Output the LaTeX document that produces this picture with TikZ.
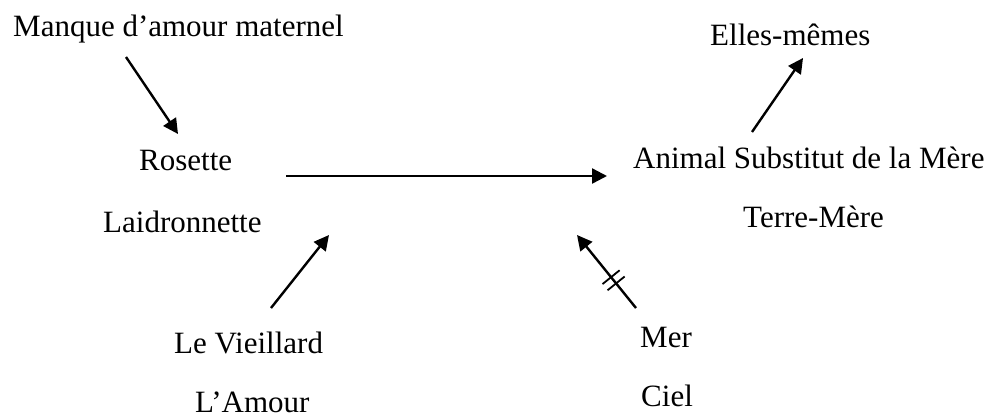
\documentclass[tikz,border=0pt]{standalone}
\usepackage{fontspec}
\setmainfont{Liberation Serif}
\usetikzlibrary{arrows.meta,decorations.markings}

\begin{document}
\begin{tikzpicture}[
  x=1pt, y=-1pt,
  lbl/.style={font=\fontsize{31}{37}\selectfont, inner sep=0pt, anchor=base west},
  arr/.style={-{Triangle[length=15pt,width=15pt]}, line width=2.4pt},
  cut/.style={postaction={decorate},
              decoration={markings, mark=at position 0.38 with
                {\draw[-, line width=1.8pt] (-4pt,-11pt) -- (-4pt,11pt);
                 \draw[-, line width=1.8pt] (4pt,-11pt) -- (4pt,11pt);}}}
]
\useasboundingbox (0,0) rectangle (999,416);
% ----- texts -----
\node[lbl] (manque) at (13,36) {Manque d’amour maternel};
\node[lbl] (elles) at (710,45) {Elles-mêmes};
\node[lbl] (rosette) at (139,170) {Rosette};
\node[lbl] (laid) at (103,232) {Laidronnette};
\node[lbl] (animal) at (633,168) {Animal Substitut de la Mère};
\node[lbl] (terre) at (743,227) {Terre-Mère};
\node[lbl] (vieil) at (174,353) {Le Vieillard};
\node[lbl] (amour) at (195,412) {L’Amour};
\node[lbl] (mer) at (640,347) {Mer};
\node[lbl] (ciel) at (641,406) {Ciel};
% ----- arrow ends -----
\coordinate (m0) at (126,57);  \coordinate (m1) at (178,134);
\coordinate (h0) at (286,176); \coordinate (h1) at (607,176);
\coordinate (v0) at (271,308); \coordinate (v1) at (329,235);
\coordinate (c0) at (636,308); \coordinate (c1) at (577,235);
\coordinate (e0) at (752,132); \coordinate (e1) at (803,58);
% ----- arrows -----
\draw[arr] (m0) -- (m1);
\draw[arr] (h0) -- (h1);
\draw[arr] (v0) -- (v1);
\draw[arr, cut] (c0) -- (c1);
\draw[arr] (e0) -- (e1);
\end{tikzpicture}
\end{document}
